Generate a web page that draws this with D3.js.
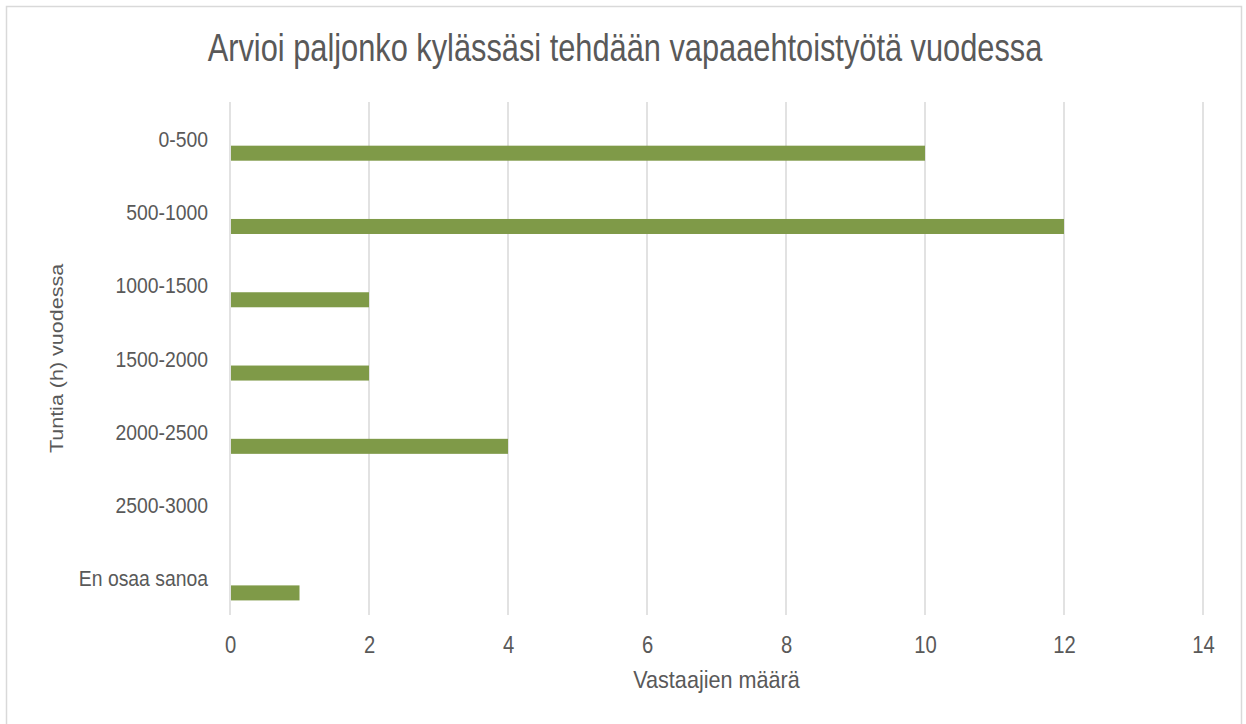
<!DOCTYPE html>
<html lang="fi">
<head>
<meta charset="utf-8">
<title>Vapaaehtoistyö</title>
<script src="https://d3js.org/d3.v7.min.js"></script>
<style>
  body { margin: 0; background: #fff; }
  text { font-family: "Liberation Sans", Arial, sans-serif; fill: #595959; }
</style>
</head>
<body>
<script>
  var categories = ["0-500", "500-1000", "1000-1500", "1500-2000", "2000-2500", "2500-3000", "En osaa sanoa"];
  var counts = [10, 12, 2, 2, 4, 0, 1];
  var xTicks = [0, 2, 4, 6, 8, 10, 12, 14];

  var w = 1246, h = 724;
  var margin = {top: 102, right: 43, bottom: 109, left: 230};
  var innerW = w - margin.left - margin.right;
  var innerH = h - margin.top - margin.bottom;
  var squeeze = 0.88; // the original text is narrow

  var svg = d3.select("body").append("svg")
    .attr("width", w)
    .attr("height", h);

  // chart frame
  svg.append("rect")
    .attr("x", 6.5).attr("y", 6.5)
    .attr("width", w - 11).attr("height", h)
    .attr("fill", "none")
    .attr("stroke", "#d9d9d9")
    .attr("stroke-width", 1.5);

  var x = d3.scaleLinear().domain([0, 14]).range([0, innerW]);
  var y = d3.scaleBand().domain(categories).range([0, innerH]);

  var g = svg.append("g").attr("transform", "translate(" + margin.left + "," + margin.top + ")");

  // vertical gridlines
  g.selectAll(".grid")
    .data(xTicks)
    .enter().append("line")
    .attr("x1", function(d) { return x(d); })
    .attr("x2", function(d) { return x(d); })
    .attr("y1", 0).attr("y2", innerH)
    .attr("stroke", "#d9d9d9")
    .attr("stroke-width", 1.5);

  // bars sit in the lower part of each band
  g.selectAll(".bar")
    .data(counts)
    .enter().append("rect")
    .attr("x", x(0) + 1)
    .attr("y", function(d, i) { return y(categories[i]) + y.bandwidth() * 0.596; })
    .attr("width", function(d) { return Math.max(0, x(d) - x(0) - 1); })
    .attr("height", y.bandwidth() * 0.205)
    .attr("fill", "#7f9a48");

  // x axis labels
  var xAxis = d3.axisBottom(x).tickValues(xTicks).tickSize(0).tickPadding(22);
  var xg = g.append("g").attr("transform", "translate(0," + innerH + ")").call(xAxis);
  xg.select(".domain").remove();
  xg.selectAll("text")
    .attr("font-size", 23)
    .attr("transform", "scale(" + squeeze + ",1)")
    .style("fill", "#595959")
    .style("font-family", '"Liberation Sans", Arial, sans-serif');

  // category labels
  g.selectAll(".cat")
    .data(categories)
    .enter().append("text")
    .attr("transform", function(d) {
      return "translate(-22," + (y(d) + y.bandwidth() / 2 + 8) + ") scale(" + squeeze + ",1)";
    })
    .attr("text-anchor", "end")
    .attr("font-size", 22)
    .text(function(d) { return d; });

  // title
  svg.append("text")
    .attr("transform", "translate(625,61) scale(0.81,1)")
    .attr("text-anchor", "middle")
    .attr("font-size", 38)
    .text("Arvioi paljonko kylässäsi tehdään vapaaehtoistyötä vuodessa");

  // axis titles
  svg.append("text")
    .attr("transform", "translate(" + (margin.left + innerW / 2) + ",688) scale(0.9,1)")
    .attr("text-anchor", "middle")
    .attr("font-size", 24)
    .text("Vastaajien määrä");

  svg.append("text")
    .attr("transform", "translate(63," + (margin.top + innerH / 2) + ") rotate(-90) scale(1," + squeeze + ")")
    .attr("text-anchor", "middle")
    .attr("font-size", 21.5)
    .text("Tuntia (h) vuodessa");
</script>
</body>
</html>
